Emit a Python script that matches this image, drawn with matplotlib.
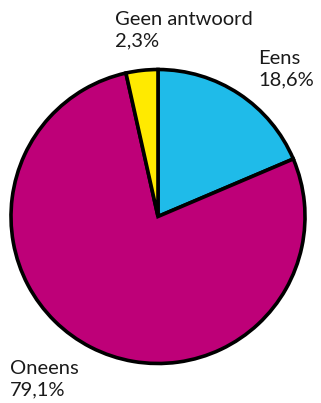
import matplotlib
matplotlib.use("Agg")
import matplotlib.pyplot as plt

categories = ["Eens", "Oneens", "Geen antwoord"]
# wedge sizes
values = [18.6, 77.9, 3.5]
value_labels = ["18,6%", "79,1%", "2,3%"]
colors = ["#1FBBE9", "#BE0078", "#FFEA00"]

W, H = 321, 403
fig = plt.figure(figsize=(W / 100, H / 100), dpi=100)
cx, cy, r = 158, 216.5, 147
ax = fig.add_axes([(cx - r) / W, (H - cy - r) / H, 2 * r / W, 2 * r / H])
ax.pie(values, colors=colors, startangle=90, counterclock=False,
       wedgeprops=dict(edgecolor="black", linewidth=2.6), radius=1)
ax.set_xlim(-1, 1)
ax.set_ylim(-1, 1)
ax.set_aspect("equal")
ax.axis("off")

font = ["Lato", "DejaVu Sans"]
pos = {"Eens": (258, 50), "Oneens": (10, 360), "Geen antwoord": (115, 11)}
for cat, lab in zip(categories, value_labels):
    x, y = pos[cat]
    fig.text(x / W, 1 - y / H, f"{cat}\n{lab}", ha="left", va="top",
             fontsize=14.5, family=font, fontweight="normal",
             color="#1a1a1a", linespacing=1.28)

fig.savefig("out.png", dpi=100)
